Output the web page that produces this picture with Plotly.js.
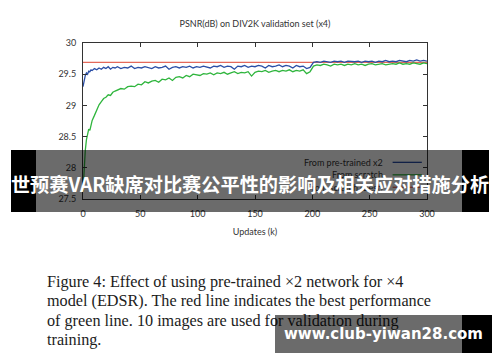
<!DOCTYPE html>
<html>
<head>
<meta charset="utf-8">
<script src="https://cdn.plot.ly/plotly-3.0.1.min.js"></script>
<style>
  html, body { margin: 0; padding: 0; background: #fff; }
  #wrap { position: relative; width: 500px; height: 362px; overflow: hidden; }
  #chart { position: absolute; left: 0; top: 0; width: 500px; height: 362px; }
  .ov { position: absolute; }
  #caption { left: 47px; top: 273px; font-family: "Liberation Serif", "Times New Roman", serif; font-size: 16.2px; line-height: 19.3px; color: #1c1c1c; white-space: nowrap; }
  #bannerL { left: 11px; top: 150px; width: 25px; height: 62px; background: #000; }
  #bannerM { left: 36px; top: 150px; width: 426px; height: 62px; background: rgba(0,0,0,0.58); }
  #bannerR { left: 462px; top: 150px; width: 27px; height: 62px; background: #000; }
  #bannerT { left: 0px; top: 150px; width: 500px; height: 62px; display: flex; align-items: center; justify-content: center; padding-top: 6px; box-sizing: border-box;
             font-family: "Noto Sans CJK SC", sans-serif; font-weight: 700; font-size: 19.2px; color: #fff; white-space: nowrap; }
  #wmM { left: 275px; top: 315px; width: 187px; height: 38px; background: rgba(0,0,0,0.58); }
  #wmR { left: 462px; top: 315px; width: 30px; height: 38px; background: #000; }
  #wmT { left: 275px; top: 315px; width: 217px; height: 38px; display: flex; align-items: center; justify-content: center;
         font-family: "DejaVu Sans", sans-serif; font-weight: 700; font-size: 15px; color: #fff; white-space: nowrap; }
</style>
</head>
<body>
<div id="wrap">
  <div id="chart"></div>
  <div id="caption" class="ov"></div>
  <div id="bannerL" class="ov"></div>
  <div id="bannerM" class="ov"></div>
  <div id="bannerR" class="ov"></div>
  <div id="bannerT" class="ov"></div>
  <div id="wmM" class="ov"></div>
  <div id="wmR" class="ov"></div>
  <div id="wmT" class="ov"></div>
</div>
<script>
// ---------------- data ----------------
const chartTitle = "PSNR(dB) on DIV2K validation set (x4)";
const xTitle = "Updates (k)";
const xTickVals = [0, 50, 100, 150, 200, 250, 300];
const yTickVals = [27.5, 28, 28.5, 29, 29.5, 30];
const yTickText = ["27.5", "28", "28.5", "29", "29.5", "30"];
const xRange = [0, 300];
const yRange = [27.5, 30];

const updates = [
  0, 1, 2, 3, 4, 5, 6, 7, 8,
  10, 12, 14, 16, 18, 20, 22, 24, 26, 28,
  30, 33, 36, 39, 42, 45, 48, 51, 54, 57, 60, 63, 66, 69, 72, 75, 78, 81, 84, 87, 90, 93, 96, 99,
  102, 105, 108, 111, 114, 117, 120, 123, 126, 129, 132, 135, 138, 141, 144, 147, 150, 153, 156, 159,
  162, 165, 168, 171, 174, 177, 180, 183, 186, 189, 192, 195, 198,
  201, 204, 207, 210, 213, 216, 219, 222, 225, 228, 231, 234, 237, 240, 243, 246, 249, 252, 255, 258,
  261, 264, 267, 270, 273, 276, 279, 282, 285, 288, 291, 294, 297, 300
];

const preTrainedName = "From pre-trained x2";
const preTrained = [
  29.30, 29.42, 29.48, 29.52, 29.50, 29.55, 29.54, 29.57, 29.56,
  29.59, 29.57, 29.60, 29.58, 29.61, 29.59, 29.62, 29.58, 29.61, 29.60,
  29.62, 29.59, 29.61, 29.60, 29.63, 29.59, 29.61, 29.60, 29.62, 29.61, 29.59, 29.62, 29.60, 29.61, 29.63, 29.58, 29.61, 29.62, 29.60, 29.62, 29.61, 29.63, 29.60, 29.62,
  29.61, 29.63, 29.62, 29.60, 29.63, 29.62, 29.64, 29.61, 29.63, 29.62, 29.58, 29.63, 29.62, 29.64, 29.61, 29.63, 29.62, 29.64, 29.63, 29.60,
  29.64, 29.62, 29.63, 29.65, 29.62, 29.64, 29.63, 29.60, 29.64, 29.62, 29.63, 29.59, 29.61,
  29.69, 29.70, 29.69, 29.71, 29.70, 29.69, 29.71, 29.70, 29.71, 29.69, 29.71, 29.70, 29.70, 29.71, 29.69, 29.71, 29.70, 29.71, 29.69, 29.71,
  29.70, 29.72, 29.70, 29.71, 29.70, 29.72, 29.71, 29.70, 29.72, 29.71, 29.73, 29.71, 29.72, 29.71
];

const scratchName = "From scratch";
const scratch = [
  27.62, 28.02, 28.28, 28.45, 28.55, 28.62, 28.60, 28.72, 28.76,
  28.84, 28.93, 29.01, 29.06, 29.11, 29.13, 29.17, 29.16, 29.21, 29.23,
  29.25, 29.27, 29.26, 29.30, 29.31, 29.30, 29.34, 29.33, 29.38, 29.36, 29.39, 29.40, 29.37, 29.42, 29.41, 29.44, 29.40, 29.45, 29.46, 29.44, 29.48, 29.46, 29.50, 29.49,
  29.48, 29.51, 29.50, 29.52, 29.49, 29.52, 29.51, 29.53, 29.50, 29.52, 29.54, 29.51, 29.53, 29.52, 29.54, 29.47, 29.53, 29.55, 29.54, 29.56,
  29.53, 29.55, 29.56, 29.54, 29.56, 29.55, 29.57, 29.54, 29.56, 29.55, 29.57, 29.51, 29.54,
  29.63, 29.65, 29.64, 29.66, 29.65, 29.63, 29.66, 29.65, 29.66, 29.64, 29.66, 29.65, 29.67, 29.65, 29.66, 29.64, 29.66, 29.67, 29.65, 29.66,
  29.67, 29.65, 29.66, 29.67, 29.66, 29.68, 29.66, 29.67, 29.66, 29.68, 29.67, 29.66, 29.68, 29.67
];

const bestName = "From scratch (Best)";
const bestScratch = 29.69;

const captionLines = [
  "Figure 4: Effect of using pre-trained \u00d72 network for \u00d74",
  "model (EDSR). The red line indicates the best performance",
  "of green line. 10 images are used for validation during",
  "training."
];
const bannerText = "世预赛VAR缺席对比赛公平性的影响及相关应对措施分析";
const watermarkText = "www.club-yiwan28.com";

// ---------------- styles ----------------
const cBlue = "#2a4ea6";
const cGreen = "#2fb53d";
const cRed = "#e4695a";
const txtFont = { family: "Lato, 'Open Sans', sans-serif", size: 9, color: "#333" };

const traces = [
  { x: xRange, y: [bestScratch, bestScratch], mode: "lines", name: bestName,
    line: { color: cRed, width: 1.3 }, showlegend: false },
  { x: updates, y: scratch, mode: "lines", name: scratchName,
    line: { color: cGreen, width: 1.3 }, showlegend: false },
  { x: updates, y: preTrained, mode: "lines", name: preTrainedName,
    line: { color: cBlue, width: 1.3 }, showlegend: false }
];

// legend drawn gnuplot-style: text, then a line sample on its right
const legendItems = [
  { name: preTrainedName, color: cBlue },
  { name: scratchName, color: cGreen },
  { name: bestName, color: cRed }
];
const annotations = [];
const shapes = [];
legendItems.forEach((it, i) => {
  const yy = 0.235 - i * 0.08;
  annotations.push({ xref: "paper", yref: "paper", x: 0.878, y: yy, xanchor: "right", yanchor: "middle",
    text: it.name, showarrow: false, font: txtFont });
  shapes.push({ type: "line", xref: "paper", yref: "paper", x0: 0.9, x1: 0.985, y0: yy, y1: yy,
    line: { color: it.color, width: 1.3 } });
});

const axisCommon = {
  showline: true, linecolor: "#333", linewidth: 1, mirror: "ticks",
  ticks: "inside", ticklen: 4, tickcolor: "#333", tickwidth: 1,
  showgrid: false, zeroline: false, tickfont: txtFont, fixedrange: true
};

const layout = {
  width: 500, height: 362,
  margin: { l: 83, r: 73, t: 43, b: 163 },
  paper_bgcolor: "#fff", plot_bgcolor: "#fff",
  title: { text: chartTitle, font: txtFont, xref: "paper", x: 0.5, xanchor: "center",
           yref: "container", y: 1 - 24 / 362, yanchor: "middle" },
  xaxis: Object.assign({}, axisCommon, {
    range: xRange, tickmode: "array", tickvals: xTickVals, ticklabelstandoff: 6,
    title: { text: xTitle, font: txtFont, standoff: 10 }
  }),
  yaxis: Object.assign({}, axisCommon, {
    range: yRange, tickmode: "array", tickvals: yTickVals, ticktext: yTickText, ticklabelstandoff: 4
  }),
  annotations: annotations,
  shapes: shapes,
  showlegend: false
};

Plotly.newPlot("chart", traces, layout, { staticPlot: true, displayModeBar: false });

document.getElementById("caption").innerHTML = captionLines.join("<br>");
document.getElementById("bannerT").textContent = bannerText;
document.getElementById("wmT").textContent = watermarkText;
</script>
</body>
</html>
